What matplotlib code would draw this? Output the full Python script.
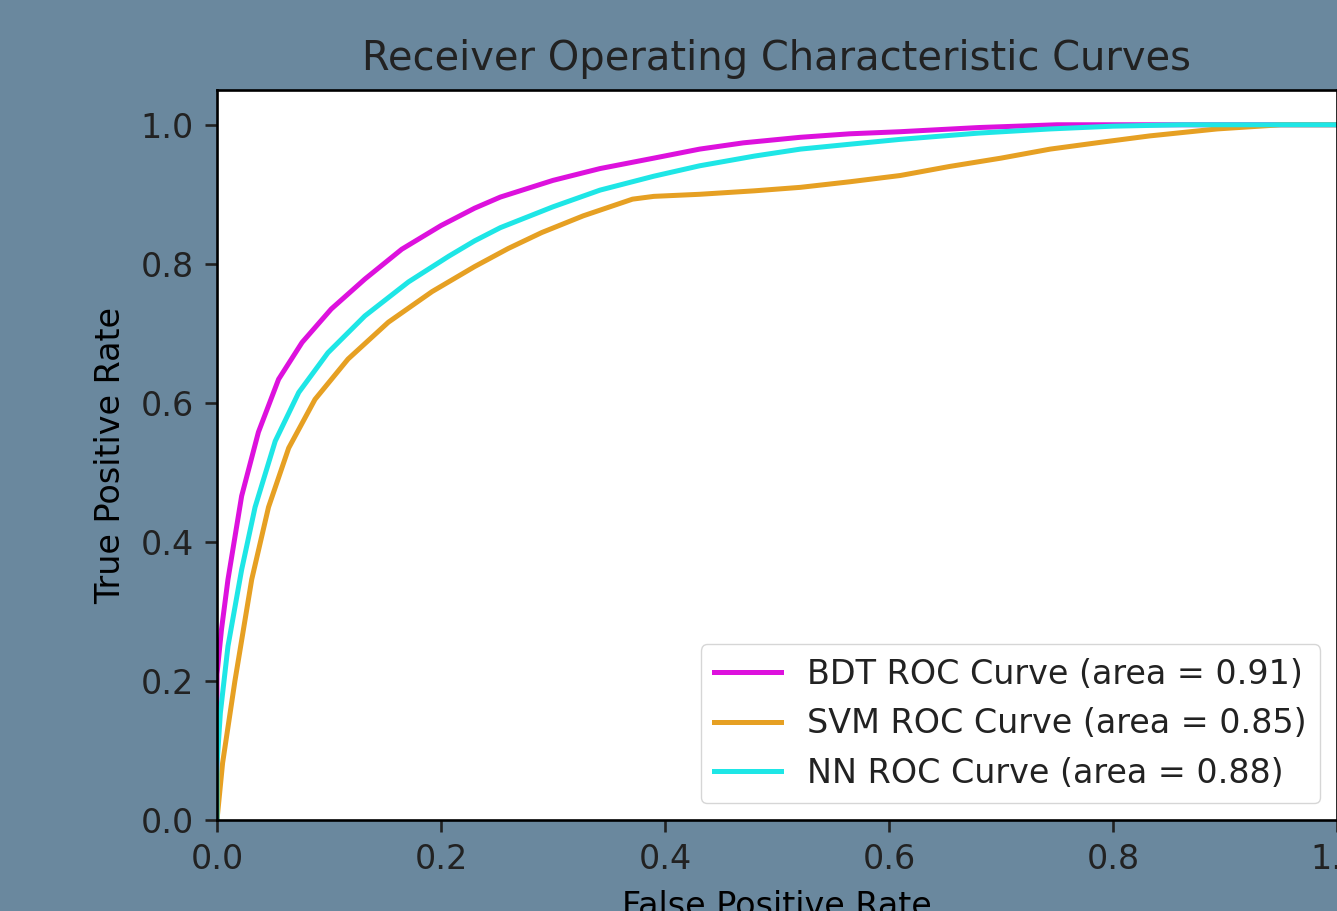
import matplotlib
matplotlib.use("Agg")
import matplotlib.pyplot as plt

#-----------------ROC points----------------
bdt_fpr = [0.0, 0.0, 0.004, 0.0098, 0.022, 0.037, 0.055, 0.076, 0.102, 0.132, 0.165, 0.20, 0.23, 0.253, 0.30,
           0.342, 0.39, 0.431, 0.47, 0.521, 0.565, 0.61, 0.68, 0.75, 0.85, 1.0]
bdt_tpr = [0.0, 0.21, 0.274, 0.346, 0.466, 0.558, 0.634, 0.687, 0.735, 0.778, 0.821, 0.855, 0.880, 0.896, 0.920,
           0.937, 0.952, 0.965, 0.974, 0.982, 0.987, 0.990, 0.996, 1.0, 1.0, 1.0]

svm_fpr = [0.0, 0.005, 0.016, 0.031, 0.046, 0.064, 0.0875, 0.117, 0.153, 0.192, 0.23, 0.26, 0.29, 0.327, 0.371,
           0.39, 0.431, 0.48, 0.521, 0.565, 0.61, 0.654, 0.70, 0.744, 0.79, 0.833, 0.893, 0.95, 1.0]
svm_tpr = [0.0, 0.082, 0.20, 0.346, 0.45, 0.535, 0.605, 0.663, 0.716, 0.760, 0.796, 0.822, 0.845, 0.869, 0.893,
           0.897, 0.900, 0.905, 0.910, 0.918, 0.927, 0.940, 0.952, 0.965, 0.975, 0.984, 0.994, 1.0, 1.0]

nn_fpr = [0.0, 0.0, 0.003, 0.0098, 0.022, 0.034, 0.052, 0.073, 0.099, 0.132, 0.171, 0.207, 0.23, 0.253, 0.30,
          0.342, 0.39, 0.431, 0.48, 0.521, 0.565, 0.61, 0.68, 0.744, 0.80, 0.862, 1.0]
nn_tpr = [0.0, 0.08, 0.154, 0.25, 0.36, 0.45, 0.545, 0.615, 0.672, 0.725, 0.774, 0.811, 0.833, 0.852, 0.882,
          0.906, 0.926, 0.941, 0.955, 0.965, 0.972, 0.979, 0.988, 0.994, 0.998, 1.0, 1.0]

labels = ['BDT ROC Curve (area = 0.91)', 'SVM ROC Curve (area = 0.85)', 'NN ROC Curve (area = 0.88)']
colors = ['#dd11dd', '#e6a023', '#1ee6e6']
xticks = [0.0, 0.2, 0.4, 0.6, 0.8, 1.0]
yticks = [0.0, 0.2, 0.4, 0.6, 0.8, 1.0]
#-----------------------------------------------------------------

plt.rcParams['font.family'] = 'DejaVu Sans'
plt.rcParams['font.size'] = 24
plt.rcParams['axes.linewidth'] = 1.9
plt.rcParams['xtick.major.size'] = 8.4
plt.rcParams['ytick.major.size'] = 8.4
plt.rcParams['xtick.major.width'] = 1.9
plt.rcParams['ytick.major.width'] = 1.9
plt.rcParams['xtick.major.pad'] = 8.4
plt.rcParams['ytick.major.pad'] = 8.4
plt.rcParams['text.color'] = '#222222'
plt.rcParams['xtick.color'] = '#222222'
plt.rcParams['ytick.color'] = '#222222'

fig = plt.figure(figsize=(13.37, 9.11), dpi=100, facecolor='#6a889e')
ax = fig.add_axes([217/1337, 91/911, 1120/1337, 730/911])
ax.set_facecolor('white')

for f, t, lab, c in zip([bdt_fpr, svm_fpr, nn_fpr], [bdt_tpr, svm_tpr, nn_tpr], labels, colors):
    ax.plot(f, t, color=c, lw=3.6, label=lab)

ax.set_xlim(0, 1)
ax.set_ylim(0, 1.05)
ax.set_xticks(xticks)
ax.set_yticks(yticks)
ax.set_xlabel('False Positive Rate', labelpad=9.6)
ax.set_ylabel('True Positive Rate', labelpad=9.6)
ax.set_title('Receiver Operating Characteristic Curves', fontsize=28.8, pad=14.4)
ax.legend(loc='lower right', fontsize=24)

fig.savefig('out.png', dpi=100, facecolor=fig.get_facecolor())
